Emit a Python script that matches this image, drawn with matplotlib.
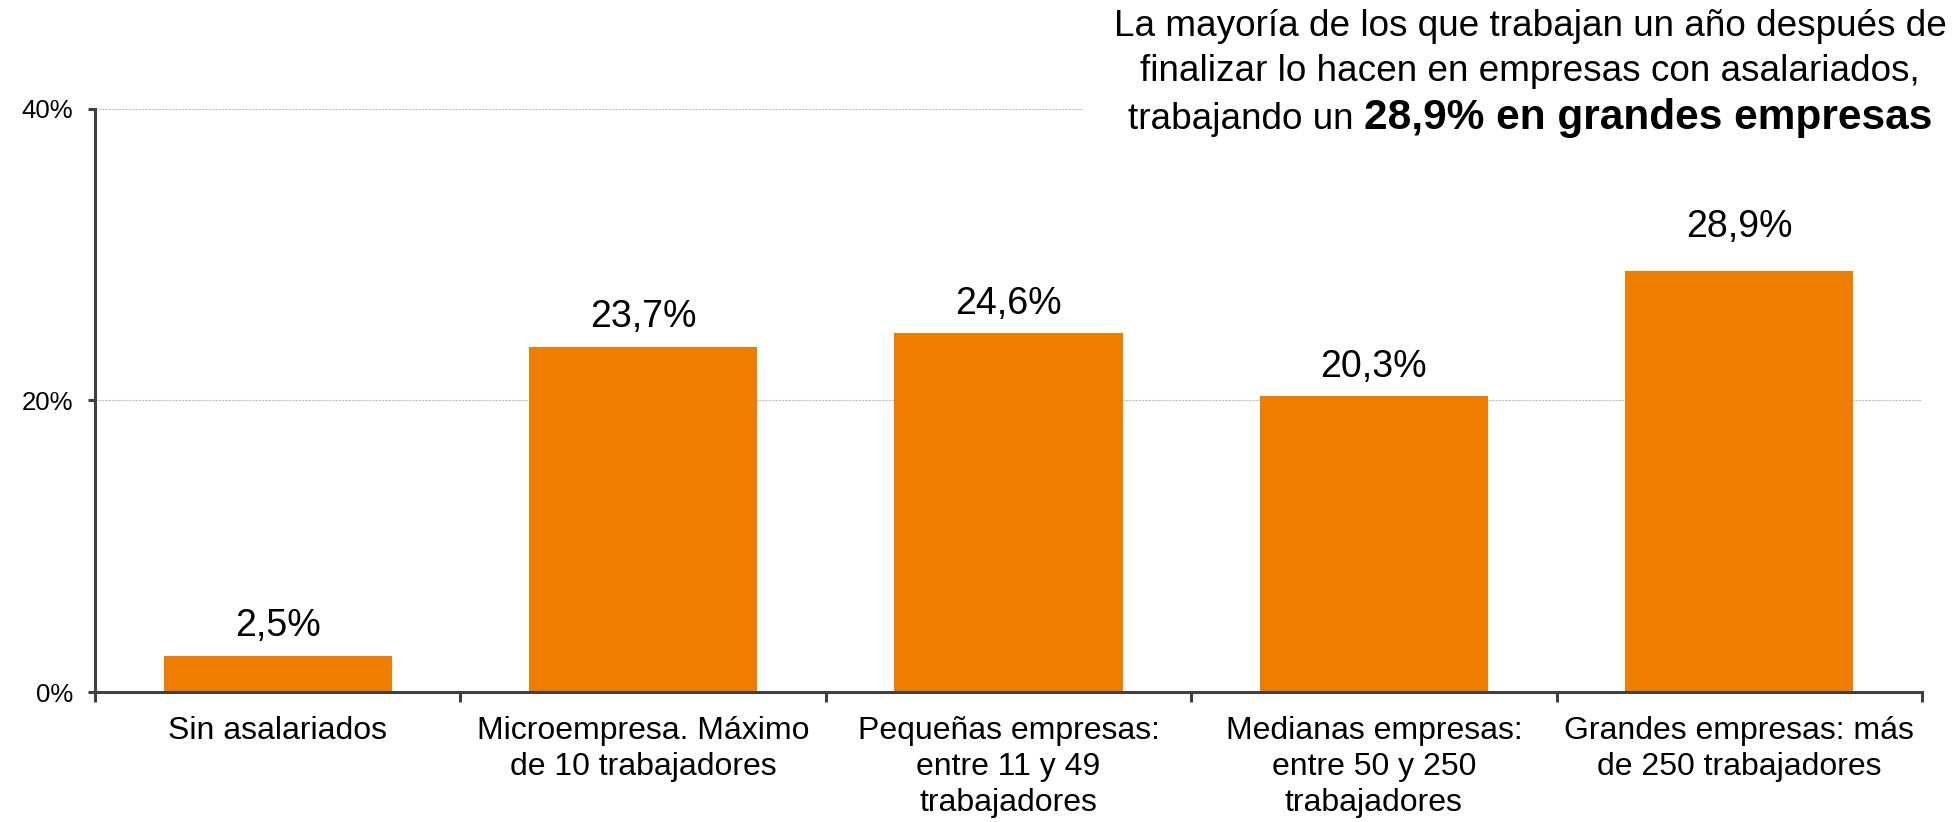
import numpy as np
import matplotlib
matplotlib.use('Agg')
import matplotlib.pyplot as plt
from matplotlib.patches import Rectangle

plt.rcParams['font.family'] = ['Liberation Sans', 'DejaVu Sans']

# datos
categorias = ['Sin asalariados',
              'Microempresa. Máximo\nde 10 trabajadores',
              'Pequeñas empresas:\nentre 11 y 49\ntrabajadores',
              'Medianas empresas:\nentre 50 y 250\ntrabajadores',
              'Grandes empresas: más\nde 250 trabajadores']
porcentajes = [2.5, 23.7, 24.6, 20.3, 28.9]
yticks = [0, 20, 40]
ytick_labels = ['0%', '20%', '40%']
titulo = ['La mayoría de los que trabajan un año después de',
          'finalizar lo hacen en empresas con asalariados,']
titulo_normal = 'trabajando un'
titulo_negrita = '28,9% en grandes empresas'

naranja = '#ef7d00'
gris = '#404040'

W, H = 1960, 822
fig = plt.figure(figsize=(W/100., H/100.), dpi=100)
ax = fig.add_axes([95./W, 130./H, (1922.-95.)/W, (692.-109.)/H])

x = np.arange(len(categorias))
ax.bar(x, porcentajes, width=0.625, color=naranja, zorder=2)

# etiquetas encima de las barras (la ultima va un poco mas alta)
subida = [14, 14, 14, 14, 24]
for i in range(len(x)):
	txt = ('%.1f' % porcentajes[i]).replace('.', ',') + '%'
	ax.annotate(txt, (x[i], porcentajes[i]), xytext=(0, subida[i]), textcoords='offset points',
	            ha='center', va='baseline', fontsize=27, color='black')

ax.set_xlim(-0.5, len(x) - 0.5)
ax.set_ylim(0, 40)

ax.set_yticks(yticks)
ax.set_yticklabels(ytick_labels)
ax.set_xticks(x)
ax.set_xticklabels(categorias, linespacing=1.27)
ax.set_xticks(np.arange(-0.5, len(x)), minor=True)

ax.tick_params(axis='y', length=5, width=2.2, color=gris, labelsize=18.5, pad=11)
ax.tick_params(axis='x', which='major', length=0, labelsize=23, pad=17)
ax.tick_params(axis='x', which='minor', length=7.5, width=2.2, color=gris, direction='out')

for s in ['top', 'right']:
	ax.spines[s].set_visible(False)
for s in ['left', 'bottom']:
	ax.spines[s].set_color(gris)
	ax.spines[s].set_linewidth(2.2)
	ax.spines[s].set_zorder(3)

ax.yaxis.grid(True, color='#bdbdbd', linestyle=(0, (2, 1)), linewidth=0.8, zorder=0)
ax.set_axisbelow(True)

# caja blanca detras del titulo
fig.add_artist(Rectangle((1083./W, 1 - 145./H), 1 - 1083./W, 145./H,
                         transform=fig.transFigure, facecolor='white', edgecolor='none', zorder=1))

xc = 1530.
fig.text(xc/W, 1 - 36./H, titulo[0], ha='center', va='baseline', fontsize=26.6, zorder=2)
fig.text(xc/W, 1 - 81./H, titulo[1], ha='center', va='baseline', fontsize=26.6, zorder=2)

t1 = fig.text(0, 1 - 129./H, titulo_normal, ha='left', va='baseline', fontsize=26.6, zorder=2)
t2 = fig.text(0, 1 - 129./H, titulo_negrita, ha='left', va='baseline', fontsize=30.5,
              fontweight='bold', zorder=2)
fig.canvas.draw()
r = fig.canvas.get_renderer()
w1 = t1.get_window_extent(r).width
w2 = t2.get_window_extent(r).width
esp = 0.278 * 26.6 * 100 / 72.
x0 = xc - (w1 + esp + w2) / 2.
t1.set_x(x0 / W)
t2.set_x((x0 + w1 + esp) / W)

fig.savefig('out.png', dpi=100)
